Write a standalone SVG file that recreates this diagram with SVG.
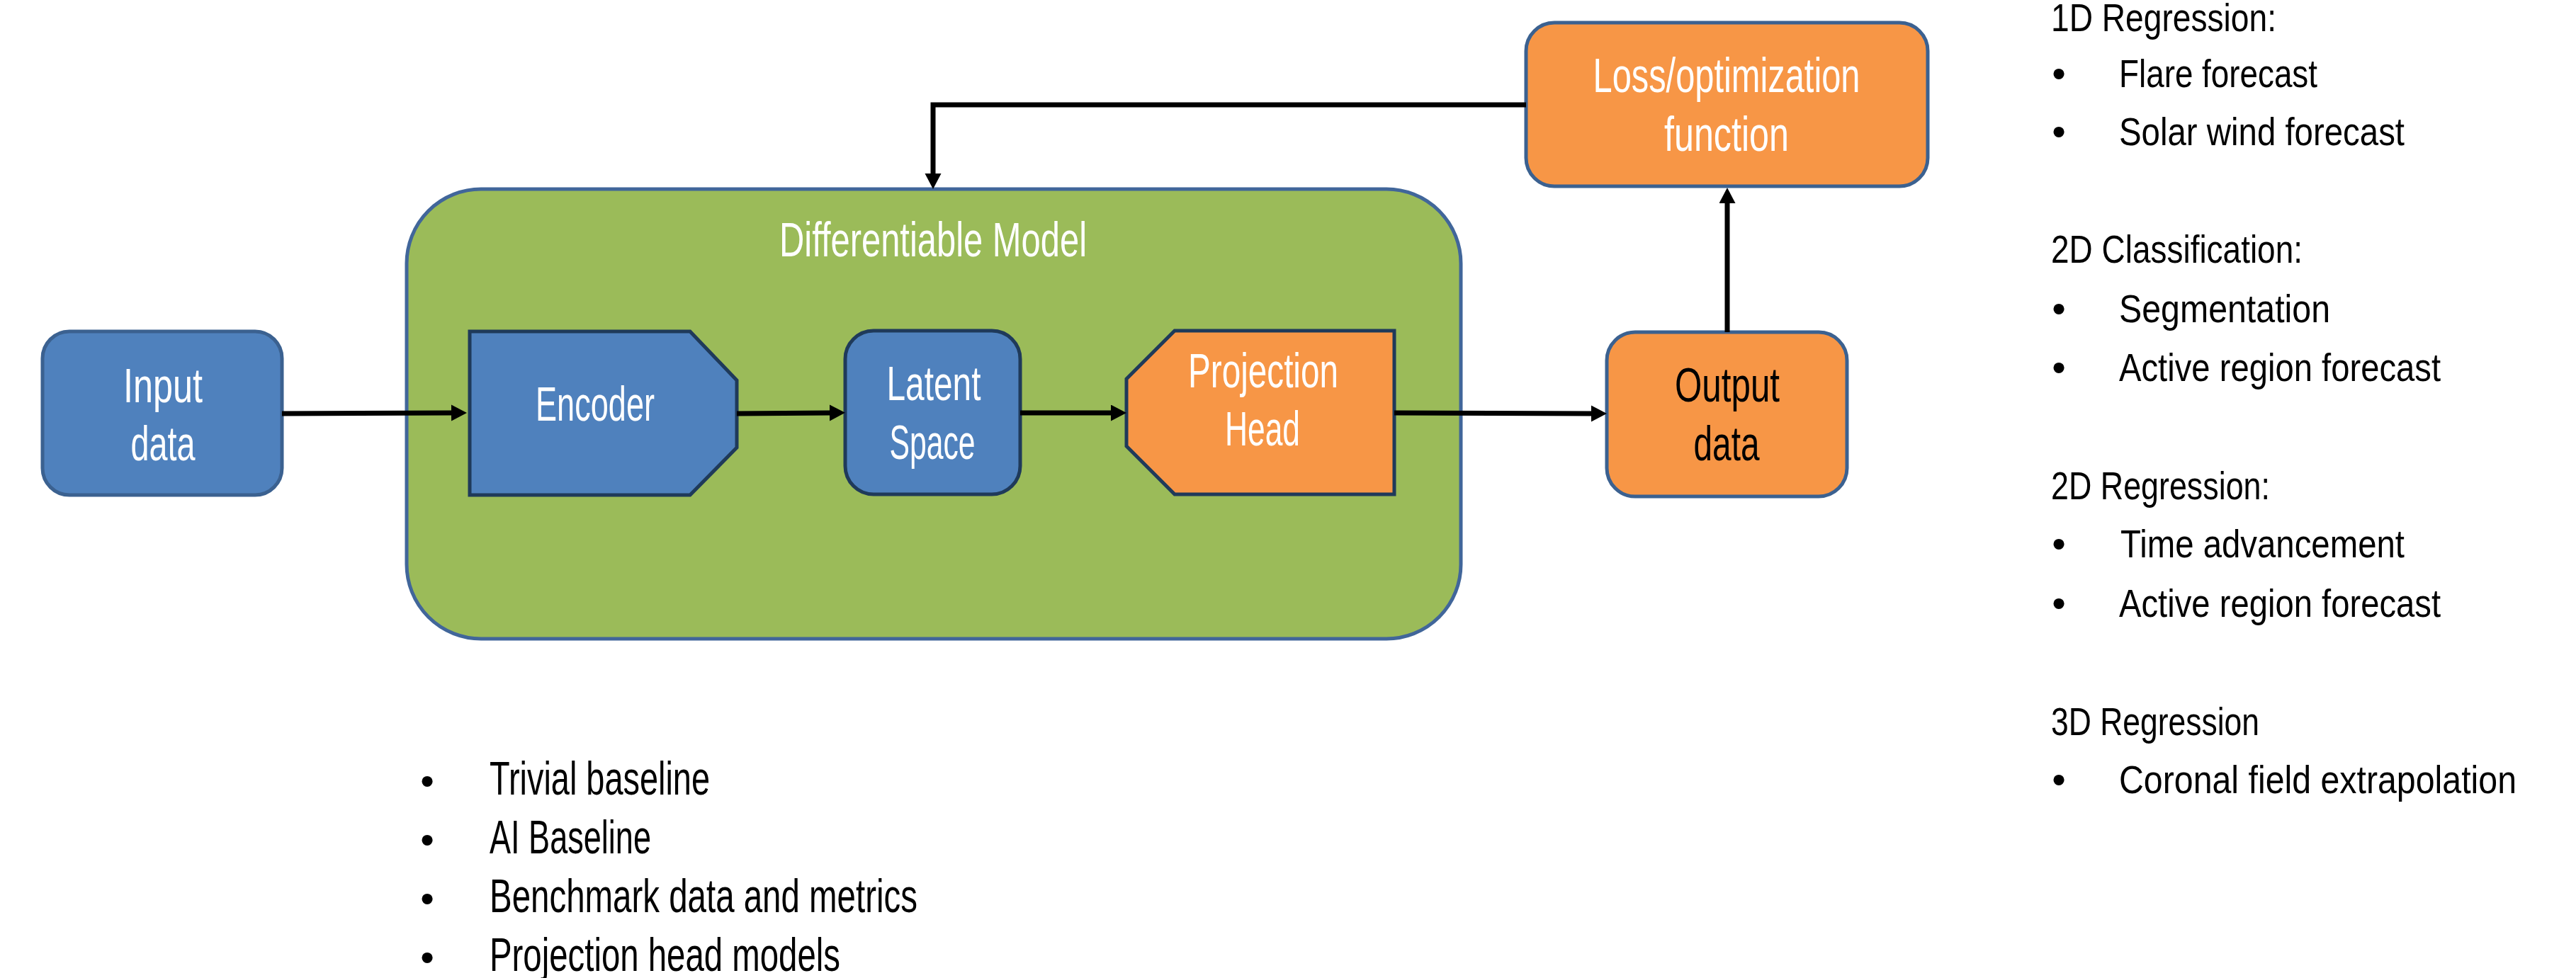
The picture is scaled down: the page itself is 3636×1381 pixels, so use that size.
<svg xmlns="http://www.w3.org/2000/svg" width="3636" height="1381" viewBox="0 0 3636 1381">
<style>
  text { font-family: 'Liberation Sans Narrow', 'Liberation Sans', Arial, sans-serif; }
  .lbl { font-size: 68px; fill: #ffffff; text-anchor: middle; }
  .lblk { font-size: 68px; fill: #000000; text-anchor: middle; }
  .rt { font-size: 56px; fill: #000000; }
  .bt { font-size: 66px; fill: #000000; }
  .bul { font-size: 56px; fill: #000000; text-anchor: middle; }
  .blue { fill: #4f81bd; }
  .orange { fill: #f79646; }
  .outer { stroke: #3b6190; stroke-width: 5; }
  .inner { stroke: #1f3a5a; stroke-width: 5; stroke-linejoin: miter; }
  .conn { fill: none; stroke: #000000; stroke-width: 7; }
</style>
<defs>
  <marker id="arrow" markerUnits="userSpaceOnUse" markerWidth="24" markerHeight="24" refX="2" refY="11.5" orient="auto">
    <path d="M0,0 L22,11.5 L0,23 z" fill="#000000"/>
  </marker>
</defs>
<rect width="3636" height="1381" fill="#ffffff"/>

<g id="differentiable-model">
  <rect x="574" y="267" width="1488" height="635" rx="105" ry="105" fill="#9bbb59" stroke="#41669a" stroke-width="5"/>
  <text class="lbl" x="1317" y="362" textLength="434" lengthAdjust="spacingAndGlyphs">Differentiable Model</text>
</g>

<g id="input-data">
  <rect class="blue outer" x="60" y="468" width="338" height="231" rx="38" ry="38"/>
  <text class="lbl" x="230" y="568" textLength="112" lengthAdjust="spacingAndGlyphs">Input</text>
  <text class="lbl" x="230" y="650" textLength="91" lengthAdjust="spacingAndGlyphs">data</text>
</g>

<g id="encoder">
  <polygon class="blue inner" points="663,468 974,468 1040,537 1040,632 974,699 663,699"/>
  <text class="lbl" x="840" y="594" textLength="168" lengthAdjust="spacingAndGlyphs">Encoder</text>
</g>

<g id="latent-space">
  <rect class="blue inner" x="1193" y="467" width="247" height="231" rx="40" ry="40"/>
  <text class="lbl" x="1318" y="565" textLength="133" lengthAdjust="spacingAndGlyphs">Latent</text>
  <text class="lbl" x="1316" y="648" textLength="121" lengthAdjust="spacingAndGlyphs">Space</text>
</g>

<g id="projection-head">
  <polygon class="orange inner" points="1590,535 1658,467 1968,467 1968,698 1658,698 1590,630"/>
  <text class="lbl" x="1783" y="547" textLength="212" lengthAdjust="spacingAndGlyphs">Projection</text>
  <text class="lbl" x="1782" y="629" textLength="106" lengthAdjust="spacingAndGlyphs">Head</text>
</g>

<g id="output-data">
  <rect class="orange outer" x="2268" y="469" width="339" height="232" rx="40" ry="40"/>
  <text class="lblk" x="2438" y="567" textLength="148" lengthAdjust="spacingAndGlyphs">Output</text>
  <text class="lblk" x="2437" y="650" textLength="93" lengthAdjust="spacingAndGlyphs">data</text>
</g>

<g id="loss-function">
  <rect class="orange outer" x="2154" y="32" width="567" height="231" rx="40" ry="40"/>
  <text class="lbl" x="2437" y="130" textLength="377" lengthAdjust="spacingAndGlyphs">Loss/optimization</text>
  <text class="lbl" x="2437" y="213" textLength="176" lengthAdjust="spacingAndGlyphs">function</text>
</g>

<g id="connectors">
  <path class="conn" d="M398,584 L639,583" marker-end="url(#arrow)"/>
  <path class="conn" d="M1040,584 L1173,583" marker-end="url(#arrow)"/>
  <path class="conn" d="M1440,583 L1570,583" marker-end="url(#arrow)"/>
  <path class="conn" d="M1968,583 L2248,584" marker-end="url(#arrow)"/>
  <path class="conn" d="M2438,469 L2438,285" marker-end="url(#arrow)"/>
  <path class="conn" d="M2154,148 L1317,148 L1317,247" marker-end="url(#arrow)"/>
</g>

<g id="task-list">
  <text class="rt" x="2895" y="44" textLength="318" lengthAdjust="spacingAndGlyphs">1D Regression:</text>
  <text class="bul" x="2906" y="123">•</text>
  <text class="rt" x="2991" y="123" textLength="280" lengthAdjust="spacingAndGlyphs">Flare forecast</text>
  <text class="bul" x="2906" y="205">•</text>
  <text class="rt" x="2991" y="205" textLength="403" lengthAdjust="spacingAndGlyphs">Solar wind forecast</text>

  <text class="rt" x="2895" y="371" textLength="355" lengthAdjust="spacingAndGlyphs">2D Classification:</text>
  <text class="bul" x="2906" y="455">•</text>
  <text class="rt" x="2991" y="455" textLength="298" lengthAdjust="spacingAndGlyphs">Segmentation</text>
  <text class="bul" x="2906" y="538">•</text>
  <text class="rt" x="2991" y="538" textLength="454" lengthAdjust="spacingAndGlyphs">Active region forecast</text>

  <text class="rt" x="2895" y="705" textLength="309" lengthAdjust="spacingAndGlyphs">2D Regression:</text>
  <text class="bul" x="2906" y="787">•</text>
  <text class="rt" x="2993" y="787" textLength="401" lengthAdjust="spacingAndGlyphs">Time advancement</text>
  <text class="bul" x="2906" y="871">•</text>
  <text class="rt" x="2991" y="871" textLength="454" lengthAdjust="spacingAndGlyphs">Active region forecast</text>

  <text class="rt" x="2895" y="1038" textLength="294" lengthAdjust="spacingAndGlyphs">3D Regression</text>
  <text class="bul" x="2906" y="1120">•</text>
  <text class="rt" x="2991" y="1120" textLength="561" lengthAdjust="spacingAndGlyphs">Coronal field extrapolation</text>
</g>

<g id="benchmark-list">
  <text class="bul" x="603" y="1122">•</text>
  <text class="bt" x="691" y="1122" textLength="311" lengthAdjust="spacingAndGlyphs">Trivial baseline</text>
  <text class="bul" x="603" y="1205">•</text>
  <text class="bt" x="691" y="1205" textLength="228" lengthAdjust="spacingAndGlyphs">AI Baseline</text>
  <text class="bul" x="603" y="1288">•</text>
  <text class="bt" x="691" y="1288" textLength="604" lengthAdjust="spacingAndGlyphs">Benchmark data and metrics</text>
  <text class="bul" x="603" y="1371">•</text>
  <text class="bt" x="691" y="1371" textLength="495" lengthAdjust="spacingAndGlyphs">Projection head models</text>
</g>
</svg>
